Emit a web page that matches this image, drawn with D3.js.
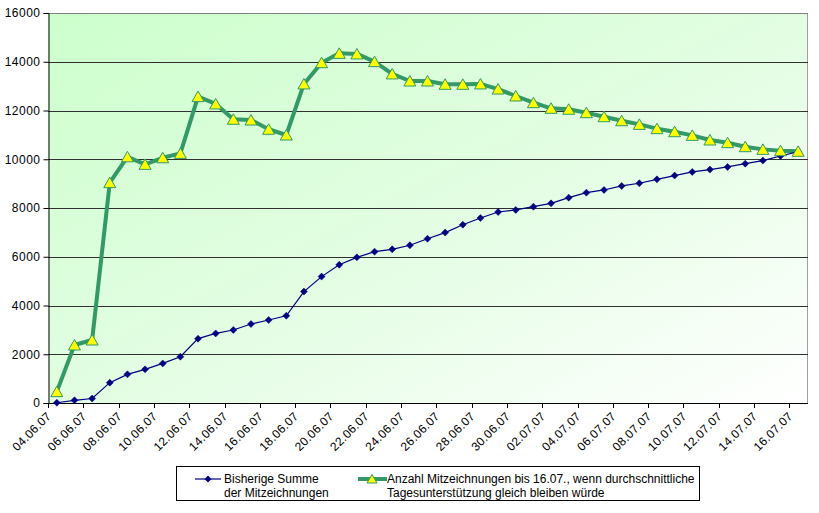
<!DOCTYPE html>
<html>
<head>
<meta charset="utf-8">
<script src="https://cdn.jsdelivr.net/npm/d3@7"></script>
<style>
  html, body { margin: 0; padding: 0; background: #ffffff; }
  svg { display: block; }
  text { font-family: "Liberation Sans", Arial, sans-serif; font-size: 12px; fill: #000; }
</style>
</head>
<body>
<svg id="chart" width="819" height="513"></svg>
<script>
// ---- data ----
const dates = [
  "04.06.07","05.06.07","06.06.07","07.06.07","08.06.07","09.06.07","10.06.07","11.06.07",
  "12.06.07","13.06.07","14.06.07","15.06.07","16.06.07","17.06.07","18.06.07","19.06.07",
  "20.06.07","21.06.07","22.06.07","23.06.07","24.06.07","25.06.07","26.06.07","27.06.07",
  "28.06.07","29.06.07","30.06.07","01.07.07","02.07.07","03.07.07","04.07.07","05.07.07",
  "06.07.07","07.07.07","08.07.07","09.07.07","10.07.07","11.07.07","12.07.07","13.07.07",
  "14.07.07","15.07.07","16.07.07"
];
const sumSeries = [
  10, 110, 185, 835, 1175, 1380, 1625, 1900,
  2640, 2855, 2995, 3240, 3405, 3580, 4570, 5185,
  5670, 5975, 6210, 6305, 6470, 6740, 6990, 7315,
  7590, 7835, 7920, 8055, 8190, 8425, 8630, 8740,
  8905, 9015, 9175, 9330, 9480, 9575, 9685, 9820,
  9945, 10135, 10315
];
const projSeries = [
  465, 2380, 2585, 9040, 10100, 9790, 10060, 10240,
  12570, 12270, 11640, 11610, 11230, 10995, 13090, 13960,
  14345, 14320, 14005, 13500, 13210, 13210, 13075, 13075,
  13090, 12880, 12595, 12320, 12090, 12050, 11910, 11745,
  11580, 11430, 11255, 11130, 10980, 10790, 10680, 10515,
  10405, 10350, 10325
];
const yTicks = [0, 2000, 4000, 6000, 8000, 10000, 12000, 14000, 16000];
const seriesNames = [
  ["Bisherige Summe", "der Mitzeichnungen"],
  ["Anzahl Mitzeichnungen bis 16.07., wenn durchschnittliche", "Tagesunterstützung gleich bleiben würde"]
];

// ---- layout ----
const L = 48, R = 807, T = 13, B = 403;
const svg = d3.select("#chart");

const x = d3.scaleBand().domain(dates).range([L, R]).paddingInner(0).paddingOuter(0);
const y = d3.scaleLinear().domain([0, 16000]).range([B, T]);
const cx = d => x(d) + x.bandwidth() / 2;

// background gradient
const defs = svg.append("defs");
const grad = defs.append("linearGradient").attr("id", "bg")
  .attr("x1", "0").attr("y1", "0").attr("x2", "1").attr("y2", "1");
grad.append("stop").attr("offset", "0%").attr("stop-color", "#ccffcc");
grad.append("stop").attr("offset", "55%").attr("stop-color", "#e4fde4");
grad.append("stop").attr("offset", "100%").attr("stop-color", "#ffffff");

svg.append("rect").attr("x", L).attr("y", T).attr("width", R - L).attr("height", B - T)
  .attr("fill", "url(#bg)");

// right border
svg.append("line").attr("x1", R + 0.5).attr("x2", R + 0.5).attr("y1", T).attr("y2", B)
  .attr("stroke", "#a0a0a0");

// gridlines
svg.append("g").selectAll("line").data(yTicks.filter(v => v > 0)).join("line")
  .attr("x1", L).attr("x2", R + 1)
  .attr("y1", d => Math.round(y(d)) + 0.5).attr("y2", d => Math.round(y(d)) + 0.5)
  .attr("stroke", d => d === 16000 ? "#808080" : "#303030")
  .attr("stroke-width", 1);

// y axis
const yAxis = d3.axisLeft(y).tickValues(yTicks).tickSize(5).tickPadding(3).tickFormat(d3.format("d"));
const gy = svg.append("g").attr("transform", `translate(${L + 0.5},0)`).call(yAxis);
gy.select(".domain").attr("stroke", "#000");
gy.selectAll(".tick line").attr("stroke", "#000");
gy.selectAll("text").style("font-family", "'Liberation Sans', Arial, sans-serif")
  .style("font-size", "12px").style("letter-spacing", "0.5px").attr("fill", "#000");

// x axis
svg.append("line").attr("x1", L).attr("x2", R + 1).attr("y1", B + 0.5).attr("y2", B + 0.5)
  .attr("stroke", "#000");
const tickDates = dates.filter((d, i) => i % 2 === 0);
svg.append("g").selectAll("line").data(tickDates).join("line")
  .attr("x1", d => Math.round(x(d)) + 0.5).attr("x2", d => Math.round(x(d)) + 0.5)
  .attr("y1", B).attr("y2", B + 5).attr("stroke", "#000");
svg.append("g").selectAll("text").data(tickDates).join("text")
  .attr("transform", d => `translate(${x(d) + 1},${B + 11}) rotate(-45)`)
  .attr("text-anchor", "end").attr("dy", "0.35em")
  .style("letter-spacing", "0.3px")
  .text(d => d);

// lines
const lineGen = d3.line().x((v, i) => cx(dates[i])).y(v => y(v));

svg.append("path").datum(projSeries).attr("d", lineGen)
  .attr("fill", "none").attr("stroke", "#339966").attr("stroke-width", 4)
  .attr("stroke-linejoin", "round");

svg.append("path").datum(sumSeries).attr("d", lineGen)
  .attr("fill", "none").attr("stroke", "#000080").attr("stroke-width", 1.2);

// markers
const tri = "M0,-5.5L6,5L-6,5Z";
const dia = "M0,-3.5L3.5,0L0,3.5L-3.5,0Z";

svg.append("g").selectAll("path").data(sumSeries).join("path")
  .attr("d", dia).attr("transform", (v, i) => `translate(${cx(dates[i])},${y(v)})`)
  .attr("fill", "#000080").attr("stroke", "#000080").attr("stroke-width", 0.5);

svg.append("g").selectAll("path").data(projSeries).join("path")
  .attr("d", tri).attr("transform", (v, i) => `translate(${cx(dates[i])},${y(v)})`)
  .attr("fill", "#ffff00").attr("stroke", "#339966").attr("stroke-width", 1);

// legend
const lg = svg.append("g");
lg.append("rect").attr("x", 176.5).attr("y", 466.5).attr("width", 523).attr("height", 34)
  .attr("fill", "#fff").attr("stroke", "#000");

// item 1
lg.append("line").attr("x1", 195).attr("x2", 221).attr("y1", 479).attr("y2", 479)
  .attr("stroke", "#000080").attr("stroke-width", 1.2);
lg.append("path").attr("d", dia).attr("transform", "translate(208,479)")
  .attr("fill", "#000080");
lg.append("text").attr("x", 224).attr("y", 483).text(seriesNames[0][0]);
lg.append("text").attr("x", 224).attr("y", 497).text(seriesNames[0][1]);

// item 2
lg.append("line").attr("x1", 358).attr("x2", 387).attr("y1", 479).attr("y2", 479)
  .attr("stroke", "#339966").attr("stroke-width", 4);
lg.append("path").attr("d", "M0,-4.5L5,4L-5,4Z").attr("transform", "translate(372,479)")
  .attr("fill", "#ffff00").attr("stroke", "#339966").attr("stroke-width", 1);
lg.append("text").attr("x", 387).attr("y", 483).text(seriesNames[1][0]);
lg.append("text").attr("x", 387).attr("y", 497).text(seriesNames[1][1]);
</script>
</body>
</html>
